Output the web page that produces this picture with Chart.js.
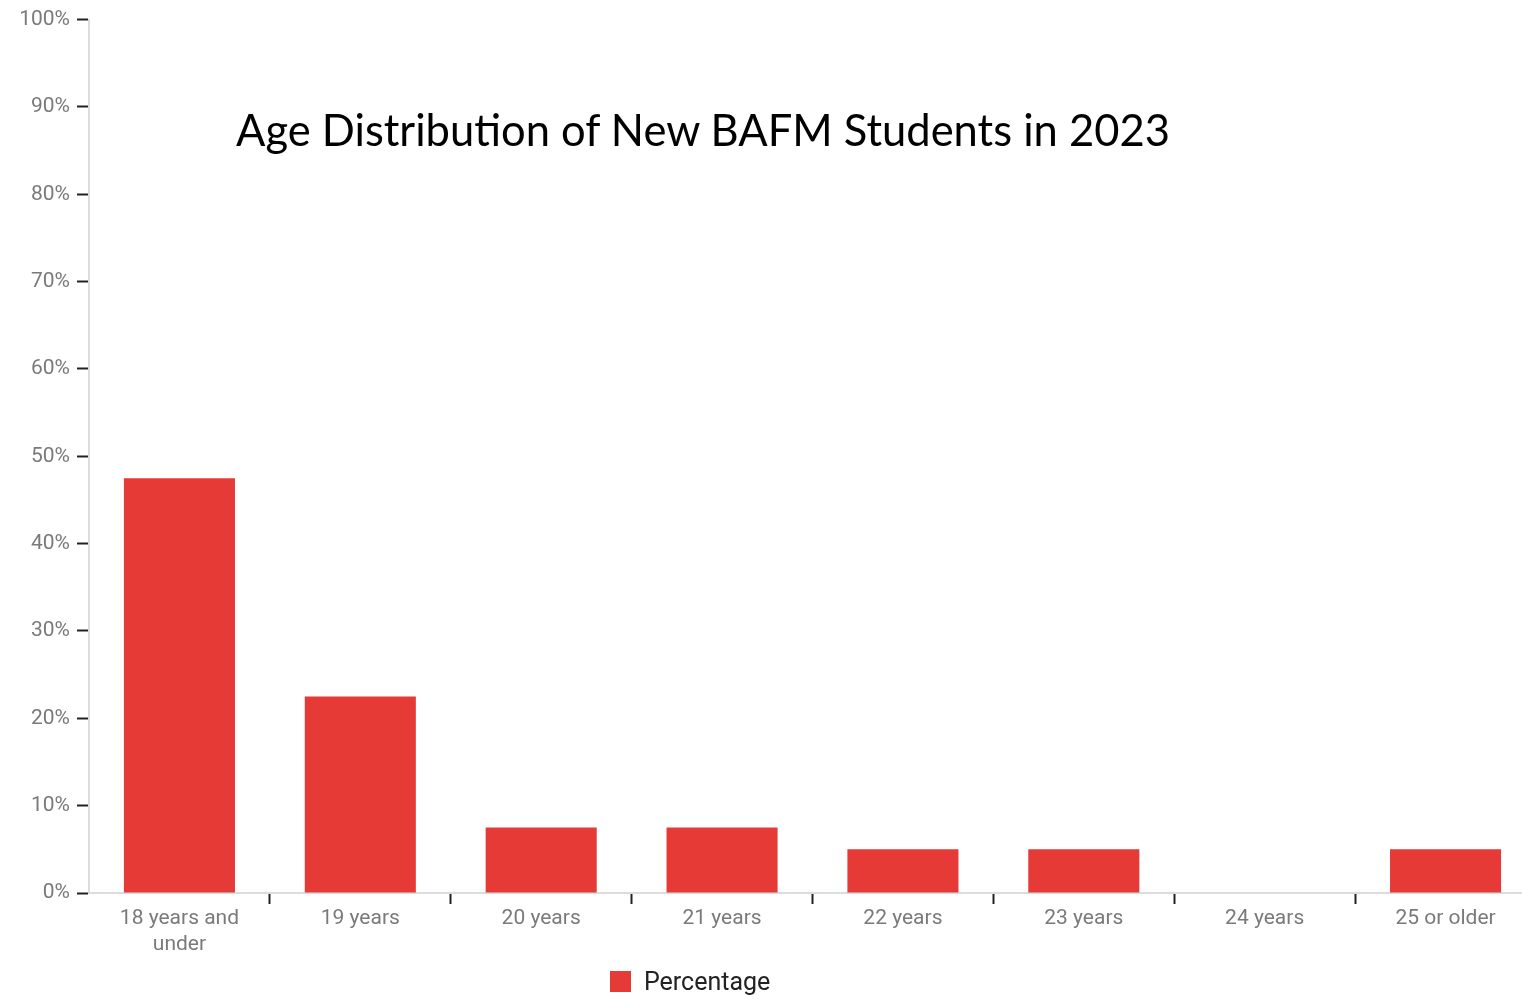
<!DOCTYPE html>
<html>
<head>
<meta charset="utf-8">
<script src="https://cdn.jsdelivr.net/npm/chart.js@4"></script>
<style>
  html, body { margin: 0; padding: 0; background: #fff; overflow: hidden; }
  #wrap { position: relative; width: 1542px; height: 999px; }
  #title { position: absolute; left: 236px; top: 103px; font-family: Lato, "Open Sans", sans-serif; font-size: 43.5px; color: #000; white-space: nowrap; }
  #legend { position: absolute; left: 610px; top: 967px; font-family: Roboto, sans-serif; font-size: 25px; color: #222; display: flex; align-items: center; }
  #legend .box { width: 21px; height: 21px; margin-right: 13px; }
</style>
</head>
<body>
<div id="wrap">
  <canvas id="c" width="1542" height="999"></canvas>
  <div id="title"></div>
  <div id="legend"></div>
</div>
<script>
const titleText = "Age Distribution of New BAFM Students in 2023";
const categories = [["18 years and", "under"], "19 years", "20 years", "21 years", "22 years", "23 years", "24 years", "25 or older"];
const seriesName = "Percentage";
const percentages = [47.5, 22.5, 7.5, 7.5, 5, 5, 0, 5];
const yTicks = [0, 10, 20, 30, 40, 50, 60, 70, 80, 90, 100];
const barColor = "#e53a35";

document.getElementById('title').textContent = titleText;
const lg = document.getElementById('legend');
const box = document.createElement('span'); box.className = 'box'; box.style.background = barColor;
const lt = document.createElement('span'); lt.textContent = seriesName;
lg.appendChild(box); lg.appendChild(lt);

new Chart(document.getElementById('c'), {
  type: 'bar',
  data: {
    labels: categories,
    datasets: [{
      label: seriesName,
      data: percentages,
      backgroundColor: barColor,
      borderWidth: 0,
      barPercentage: 1,
      categoryPercentage: 0.614
    }]
  },
  options: {
    responsive: false,
    animation: false,
    layout: { padding: { top: 14, right: 6, left: 0, bottom: 0 } },
    plugins: { legend: { display: false }, title: { display: false }, tooltip: { enabled: false } },
    scales: {
      x: {
        grid: {
          offset: true,
          drawOnChartArea: false,
          drawTicks: true,
          tickLength: 11,
          tickWidth: 2,
          tickColor: (ctx) => ctx.index === 0 ? 'rgba(0,0,0,0)' : '#222'
        },
        border: { color: '#dcdcdc', width: 2 },
        ticks: {
          color: '#7a7a7a',
          font: { family: 'Roboto', size: 21, lineHeight: 1.22 },
          padding: 2,
          maxRotation: 0,
          autoSkip: false
        },
        afterFit: (s) => { s.height = 106; }
      },
      y: {
        min: 0, max: 100,
        afterBuildTicks: (s) => { s.ticks = yTicks.map(v => ({ value: v })); },
        grid: {
          drawOnChartArea: false,
          drawTicks: true,
          tickLength: 12,
          tickWidth: 2,
          tickColor: '#222'
        },
        border: { color: '#dcdcdc', width: 2 },
        ticks: {
          color: '#7a7a7a',
          font: { family: 'Roboto', size: 21 },
          padding: 7,
          callback: (v) => v + '%'
        },
        afterFit: (s) => { s.width = 89; }
      }
    }
  }
});
</script>
</body>
</html>
